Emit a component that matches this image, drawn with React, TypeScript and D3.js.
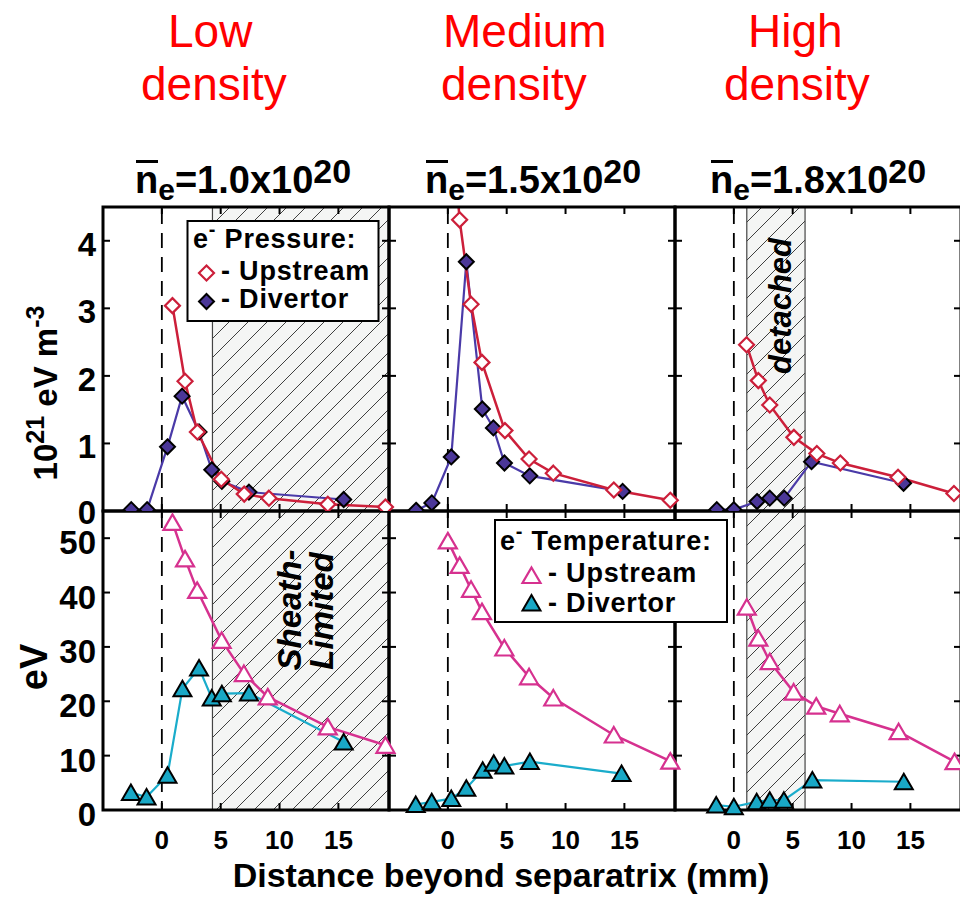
import React from "react";
import * as d3 from "d3";

type Pt = [number, number];

// ---------- labels ----------
const densityWords: string[][] = [["Low", "density"], ["Medium", "density"], ["High", "density"]];
const densityValues = ["1.0", "1.5", "1.8"];
const xTickValues = [0, 5, 10, 15];
const pressureTicks = [0, 1, 2, 3, 4];
const temperatureTicks = [0, 10, 20, 30, 40, 50];

// ---------- electron pressure (10^21 eV m^-3) : [mm, value] ----------
const lowPressureUp: Pt[] = [[0.9, 3.04], [1.97, 1.92], [3.02, 1.17], [5.05, 0.47], [7.0, 0.25], [9.1, 0.19], [14.1, 0.1], [19.0, 0.06]];
const lowPressureDiv: Pt[] = [[-2.6, 0.02], [-1.25, 0.02], [0.48, 0.95], [1.72, 1.7], [3.16, 1.17], [4.24, 0.61], [5.1, 0.44], [7.4, 0.28], [15.45, 0.17]];
const medPressureUp: Pt[] = [[0.0, 6.5], [1.0, 4.31], [1.97, 3.06], [2.9, 2.2], [4.85, 1.19], [6.9, 0.77], [8.96, 0.56], [14.1, 0.31], [18.9, 0.16]];
const medPressureDiv: Pt[] = [[-2.7, 0.01], [-1.36, 0.12], [0.29, 0.8], [1.57, 3.69], [2.93, 1.51], [3.87, 1.23], [4.81, 0.71], [6.96, 0.52], [14.85, 0.29]];
const highPressureUp: Pt[] = [[1.08, 2.46], [2.08, 1.93], [3.05, 1.57], [5.1, 1.09], [7.05, 0.85], [9.05, 0.71], [13.95, 0.5], [18.7, 0.26]];
const highPressureDiv: Pt[] = [[-1.45, 0.02], [0.0, 0.02], [1.97, 0.14], [3.05, 0.19], [4.28, 0.19], [6.6, 0.73], [14.42, 0.41]];

// ---------- electron temperature (eV) ----------
const lowTempUp: Pt[] = [[0.9, 52.9], [1.97, 46.2], [3.0, 40.4], [5.08, 31.2], [6.97, 25.1], [9.0, 20.8], [14.1, 15.3], [19.0, 11.9]];
const lowTempDiv: Pt[] = [[-2.63, 3.2], [-1.3, 2.4], [0.48, 6.4], [1.75, 22.3], [3.16, 26.1], [4.24, 20.6], [5.1, 21.4], [7.4, 21.5], [15.45, 12.5]];
const medTempUp: Pt[] = [[0.0, 49.5], [1.0, 45.0], [1.97, 40.6], [2.9, 36.5], [4.8, 29.8], [6.9, 24.5], [8.96, 20.6], [14.1, 13.8], [18.9, 9.0]];
const medTempDiv: Pt[] = [[-2.73, 1.0], [-1.37, 1.5], [0.29, 2.1], [1.57, 4.0], [2.96, 7.3], [3.9, 8.6], [4.8, 8.1], [6.97, 8.9], [14.76, 6.7]];
const highTempUp: Pt[] = [[1.1, 37.3], [2.08, 31.6], [3.05, 27.3], [5.08, 21.7], [7.0, 19.1], [9.0, 17.7], [14.0, 14.4], [18.75, 8.9]];
const highTempDiv: Pt[] = [[-1.5, 0.9], [0.0, 0.6], [1.94, 1.5], [3.05, 1.8], [4.25, 1.8], [6.67, 5.5], [14.44, 5.2]];

// shaded (hatched) regime ranges in mm per density
const shadedRanges: (Pt | null)[] = [[4.3, 19.3], null, [1.1, 6.05]];

// ---------- layout ----------
const FONT = "'Liberation Sans', Arial, Helvetica, sans-serif";
const PANEL_X = [103, 389, 675];
const PANEL_W = 286;
const TOP_Y = 207;
const MID_Y = 511;
const BOT_Y = 810;
const X_DOMAIN: Pt = [-5, 19.3];

const RED = "#cc1f3a";
const PURPLE_LINE = "#4a3aa8";
const PURPLE_FILL = "#4b3798";
const MAGENTA = "#d6318f";
const CYAN_LINE = "#1aaccb";
const CYAN_FILL = "#19a8c6";

const DIAMOND = "M0,-7.5L7.5,0L0,7.5L-7.5,0Z";
const TRIANGLE = "M0,-8L9,7.5L-9,7.5Z";

export default function App() {
  const xScales = PANEL_X.map((x0) => d3.scaleLinear().domain(X_DOMAIN).range([x0, x0 + PANEL_W]));
  const yP = d3.scaleLinear().domain([0, 4.5]).range([MID_Y, TOP_Y]);
  const yT = d3.scaleLinear().domain([0, 55]).range([BOT_Y, MID_Y]);

  const pressUp = [lowPressureUp, medPressureUp, highPressureUp];
  const pressDiv = [lowPressureDiv, medPressureDiv, highPressureDiv];
  const tempUp = [lowTempUp, medTempUp, highTempUp];
  const tempDiv = [lowTempDiv, medTempDiv, highTempDiv];

  const rows = [
    { key: "p", y: yP, top: TOP_Y, bottom: MID_Y, ticks: pressureTicks, up: pressUp, div: pressDiv,
      upColor: RED, divLine: PURPLE_LINE, divFill: PURPLE_FILL, shape: DIAMOND, max: 4.5 },
    { key: "t", y: yT, top: MID_Y, bottom: BOT_Y, ticks: temperatureTicks, up: tempUp, div: tempDiv,
      upColor: MAGENTA, divLine: CYAN_LINE, divFill: CYAN_FILL, shape: TRIANGLE, max: 55 },
  ];

  const headerX = [[168, 141], [443, 441], [748, 724]];
  const subtitleX = [135, 425, 710];

  return (
    <svg width={960} height={902} style={{ position: "absolute", left: 0, top: 0, background: "#fff" }} fontFamily={FONT}>
      <defs>
        <pattern id="hatch" patternUnits="userSpaceOnUse" width={19} height={19}>
          <rect width={19} height={19} fill="#f4f5f4" />
          <path d="M-3,3L3,-3M0,19L19,0M16,22L22,16" stroke="#111" strokeWidth={0.8} />
        </pattern>
        {rows.map((r) =>
          xScales.map((xs, i) => (
            <clipPath id={`clip-${r.key}-${i}`} key={`${r.key}${i}`}>
              <rect x={xs.range()[0]} y={r.top} width={PANEL_W} height={r.bottom - r.top} />
            </clipPath>
          ))
        )}
        <clipPath id="topRowMarks">
          <rect x={0} y={0} width={960} height={MID_Y} />
        </clipPath>
      </defs>
      <rect width={960} height={902} fill="#fff" />

      {/* red density headers */}
      {densityWords.map((words, i) => (
        <g key={`h${i}`} fill="#ff0000" fontSize={46}>
          <text x={headerX[i][0]} y={47}>{words[0]}</text>
          <text x={headerX[i][1]} y={100}>{words[1]}</text>
        </g>
      ))}

      {/* n_e subtitles */}
      {densityValues.map((v, i) => (
        <g key={`s${i}`}>
          <text x={subtitleX[i]} y={193} fontSize={38} fontWeight="bold">
            <tspan>n</tspan>
            <tspan fontSize={30} dy={7}>e</tspan>
            <tspan dy={-7}>{`=${v}x10`}</tspan>
            <tspan fontSize={34} dy={-10}>20</tspan>
          </text>
          <line x1={subtitleX[i] + 1} x2={subtitleX[i] + 23} y1={161.5} y2={161.5} stroke="#000" strokeWidth={3} />
        </g>
      ))}

      {/* backgrounds and hatched regions */}
      {rows.map((r) =>
        xScales.map((xs, i) => {
          const [x0, x1] = xs.range();
          const sr = shadedRanges[i];
          let shade = null;
          if (sr) {
            const a = Math.max(xs(sr[0]), x0);
            const b = Math.min(xs(sr[1]), x1);
            shade = (
              <g>
                <rect x={a} y={r.top} width={b - a} height={r.bottom - r.top} fill="url(#hatch)" />
                <line x1={a} x2={a} y1={r.top} y2={r.bottom} stroke="#444" strokeWidth={1.2} />
                {b < x1 - 2 && <line x1={b} x2={b} y1={r.top} y2={r.bottom} stroke="#444" strokeWidth={1.2} />}
              </g>
            );
          }
          return (
            <g key={`bg${r.key}${i}`}>
              {shade}
              <line x1={xs(0)} x2={xs(0)} y1={r.top + 2} y2={r.bottom} stroke="#000" strokeWidth={1.8} strokeDasharray="15 9" />
            </g>
          );
        })
      )}

      {/* regime annotations */}
      <text transform={`translate(${xScales[2](4.85)},306) rotate(-90)`} textAnchor="middle" fontSize={31} fontWeight="bold" fontStyle="italic">detached</text>
      <text transform={`translate(${xScales[0](11.8)},610) rotate(-90)`} textAnchor="middle" fontSize={33} fontWeight="bold" fontStyle="italic">Sheath-</text>
      <text transform={`translate(${xScales[0](14.5)},611) rotate(-90)`} textAnchor="middle" fontSize={33} fontWeight="bold" fontStyle="italic">Limited</text>

      {/* data lines */}
      {rows.map((r) =>
        xScales.map((xs, i) => {
          const line = d3.line<Pt>().x((d) => xs(d[0])).y((d) => r.y(d[1]));
          return (
            <g key={`l${r.key}${i}`} clipPath={`url(#clip-${r.key}-${i})`} fill="none">
              <path d={line(r.div[i]) || ""} stroke={r.divLine} strokeWidth={2.2} />
              <path d={line(r.up[i]) || ""} stroke={r.upColor} strokeWidth={2.5} />
            </g>
          );
        })
      )}

      {/* frames and ticks */}
      {rows.map((r) =>
        xScales.map((xs, i) => {
          const [x0, x1] = xs.range();
          const tl = 7;
          return (
            <g key={`f${r.key}${i}`} stroke="#000" strokeWidth={2}>
              {r.ticks.filter((t) => t > 0).map((t) => (
                <g key={`yt${t}`}>
                  <line x1={x0} x2={x0 + tl} y1={r.y(t)} y2={r.y(t)} />
                  <line x1={x1} x2={x1 - tl} y1={r.y(t)} y2={r.y(t)} />
                </g>
              ))}
              {xTickValues.map((t) => (
                <g key={`xt${t}`}>
                  <line x1={xs(t)} x2={xs(t)} y1={r.top} y2={r.top + tl} />
                  <line x1={xs(t)} x2={xs(t)} y1={r.bottom} y2={r.bottom - tl} />
                </g>
              ))}
              <rect x={x0} y={r.top} width={PANEL_W} height={r.bottom - r.top} fill="none" strokeWidth={3} />
            </g>
          );
        })
      )}

      {/* markers */}
      {rows.map((r) =>
        xScales.map((xs, i) => (
          <g key={`m${r.key}${i}`} clipPath={r.key === "p" ? "url(#topRowMarks)" : undefined}>
            {r.div[i].filter((d) => d[1] <= r.max).map((d, j) => (
              <path key={`d${j}`} d={r.shape} transform={`translate(${xs(d[0])},${r.y(d[1])})`} fill={r.divFill} stroke="#000" strokeWidth={2} strokeLinejoin="miter" />
            ))}
            {r.up[i].filter((d) => d[1] <= r.max).map((d, j) => (
              <path key={`u${j}`} d={r.shape} transform={`translate(${xs(d[0])},${r.y(d[1])})`} fill="#fff" stroke={r.upColor} strokeWidth={2.2} />
            ))}
          </g>
        ))
      )}

      {/* y tick labels */}
      <g fontSize={33} fontWeight="bold" textAnchor="end">
        {pressureTicks.map((t) => (
          <text key={`py${t}`} x={96} y={yP(t) + (t === 0 ? 13 : 15)}>{t}</text>
        ))}
        {temperatureTicks.map((t) => (
          <text key={`ty${t}`} x={96} y={yT(t) + 16}>{t}</text>
        ))}
      </g>

      {/* x tick labels */}
      <g fontSize={26} fontWeight="bold" textAnchor="middle">
        {xScales.map((xs, i) =>
          xTickValues.map((t) => (
            <text key={`xl${i}${t}`} x={xs(t)} y={849}>{t}</text>
          ))
        )}
      </g>

      {/* axis titles */}
      <text x={501} y={887} fontSize={34} fontWeight="bold" textAnchor="middle">Distance beyond separatrix (mm)</text>
      <text transform="translate(57,393) rotate(-90)" textAnchor="middle" fontSize={33} fontWeight="bold">
        <tspan>10</tspan>
        <tspan fontSize={25} dy={-13}>21</tspan>
        <tspan dy={13}> eV m</tspan>
        <tspan fontSize={25} dy={-13}>-3</tspan>
      </text>
      <text transform="translate(47,667) rotate(-90)" textAnchor="middle" fontSize={38} fontWeight="bold">eV</text>

      {/* pressure legend */}
      <g>
        <rect x={187.5} y={221} width={191} height={100} fill="#fff" stroke="#000" strokeWidth={2} />
        <g fontSize={27} fontWeight="bold" letterSpacing={0.8}>
          <text x={193} y={248}>
            <tspan>e</tspan>
            <tspan fontSize={20} dy={-12}>-</tspan>
            <tspan dy={12}> Pressure:</tspan>
          </text>
          <text x={221} y={280}>- Upstream</text>
          <text x={221} y={308}>- Divertor</text>
        </g>
        <path d={DIAMOND} transform="translate(206.5,273)" fill="#fff" stroke={RED} strokeWidth={2.2} />
        <path d={DIAMOND} transform="translate(206.5,301.5)" fill={PURPLE_FILL} stroke="#000" strokeWidth={2} />
      </g>

      {/* temperature legend */}
      <g>
        <rect x={495} y={520} width={232} height={102} fill="#fff" stroke="#000" strokeWidth={2} />
        <g fontSize={27} fontWeight="bold" letterSpacing={0.8}>
          <text x={500} y={550}>
            <tspan>e</tspan>
            <tspan fontSize={20} dy={-12}>-</tspan>
            <tspan dy={12}> Temperature:</tspan>
          </text>
          <text x={548} y={582}>- Upstream</text>
          <text x={548} y={612}>- Divertor</text>
        </g>
        <path d={TRIANGLE} transform="translate(531.5,575.5)" fill="#fff" stroke={MAGENTA} strokeWidth={2.2} />
        <path d={TRIANGLE} transform="translate(531.5,603)" fill={CYAN_FILL} stroke="#000" strokeWidth={2} />
      </g>
    </svg>
  );
}
